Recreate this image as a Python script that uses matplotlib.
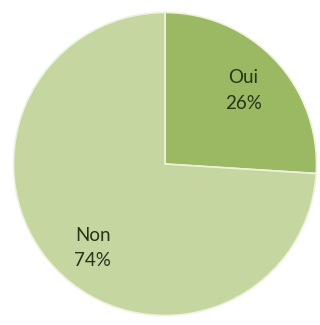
import matplotlib
matplotlib.use("Agg")
import matplotlib.pyplot as plt
import numpy as np

plt.rcParams['font.family'] = ['Lato', 'DejaVu Sans']

labels = ["Oui", "Non"]
values = [26, 74]
colors = ["#9bb862", "#c5d6a1"]

fig = plt.figure(figsize=(3.2, 3.25), dpi=100)
ax = fig.add_axes([12 / 320, 8 / 325, 306 / 320, 306 / 325])

texts = [f"{l}\n{v}%" for l, v in zip(labels, values)]
wedges, txt = ax.pie(values, labels=texts, colors=colors, startangle=90,
                     counterclock=False, labeldistance=0.71,
                     wedgeprops=dict(edgecolor="#eef2dc", linewidth=1.2),
                     textprops=dict(fontsize=13.5, color="#26331a",
                                    ha="center", va="center", linespacing=1.6))

# le libellé "Non" un peu plus bas, vers le bord gauche du secteur
w = wedges[1]
ang = np.deg2rad((w.theta1 + w.theta2) / 2 + 6)
txt[1].set_position((0.73 * np.cos(ang), 0.73 * np.sin(ang)))

ax.set_xlim(-1.01, 1.01)
ax.set_ylim(-1.01, 1.01)
ax.set_aspect("equal")

fig.savefig("out.png", dpi=100)
